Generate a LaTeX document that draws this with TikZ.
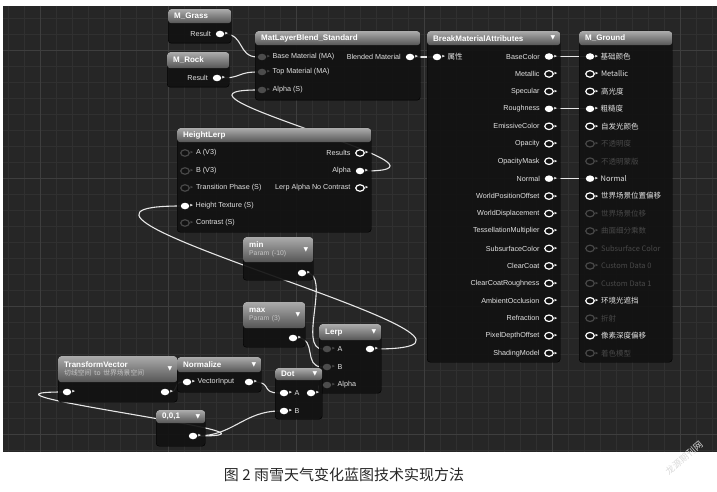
\documentclass[tikz,border=0pt]{standalone}
\usepackage{fontspec}
\setmainfont{Liberation Sans}
\newfontfamily\cjk{Noto Sans CJK SC}
\newfontfamily\dejavu{DejaVu Sans}
\usetikzlibrary{shapes.geometric}
\definecolor{canvas}{HTML}{262626}
\definecolor{gridminor}{HTML}{303030}
\definecolor{gridmajor}{HTML}{3E3E3E}
\definecolor{nodebody}{HTML}{121212}
\definecolor{headtop}{HTML}{ABABAB}
\definecolor{headbot}{HTML}{555555}
\definecolor{pintext}{HTML}{E2E2E2}
\definecolor{subtext}{HTML}{C4C4C4}
\definecolor{dimtext}{HTML}{484848}
\definecolor{matgray}{HTML}{4C4C4C}
\definecolor{wirecol}{HTML}{E6E6E6}
\pgfdeclarelayer{back}
\pgfdeclarelayer{wires}
\pgfsetlayers{back,wires,main}
\begin{document}
\begin{tikzpicture}[x=1pt, y=-1pt,
    body/.style={anchor=north west, draw=black, fill=nodebody, fill opacity=0.92, rounded corners=3pt, inner sep=0pt},
    head/.style={anchor=north west, top color=headtop, bottom color=headbot, rounded corners=3pt, inner xsep=6pt, inner ysep=0pt, align=left, text=white, font=\fontsize{8}{9}\selectfont\bfseries},
    drop/.style={label={[anchor=east, xshift=-5pt, inner sep=0pt, text=white, font=\dejavu\fontsize{6}{6}\selectfont]0:▼}},
    pinbase/.style={ellipse, inner sep=0pt, minimum width=8.5pt, minimum height=6.5pt},
    pintip/.style={label={[inner sep=0pt, label distance=0.6pt, text=#1, font=\dejavu\fontsize{3.5}{3.5}\selectfont]0:▶}},
    pinon/.style={pinbase, fill=white, pintip=white},
    pinoff/.style={pinbase, draw=white, line width=1.2pt, fill=nodebody, pintip=white},
    pinmat/.style={pinbase, fill=matgray, pintip=matgray},
    pindim/.style={pinbase, draw=dimtext, line width=1.2pt, fill=nodebody, pintip=dimtext},
    lbl/.style={inner sep=1.5pt, text=pintext, font=\fontsize{7.2}{8}\selectfont},
    outl/.style={label={[lbl, label distance=3pt]180:#1}},
    inl/.style={label={[lbl, label distance=4.5pt]0:#1}},
    cjkl/.style 2 args={label={[lbl, label distance=4.5pt, text=#1, font=\cjk\fontsize{7.5}{8}\selectfont]0:#2}},
    wire/.style={draw=wirecol, line width=1.1pt, out=0, in=180}]
\useasboundingbox (0,0) rectangle (717,492);
\begin{pgfonlayer}{back}
  \fill[canvas] (3,6) rectangle (717,452);
  \foreach \gx in {8,24,...,712} \draw[gridminor, line width=0.5pt] (\gx,6) -- (\gx,452);
  \foreach \gy in {18,34,...,450} \draw[gridminor, line width=0.5pt] (3,\gy) -- (717,\gy);
  \foreach \gx in {40,168,...,680} \draw[gridmajor, line width=0.7pt] (\gx,6) -- (\gx,452);
  \foreach \gy in {50,178,306,434} \draw[gridmajor, line width=0.7pt] (3,\gy) -- (717,\gy);
\end{pgfonlayer}

\node[body, minimum width=63pt, minimum height=34pt] (grass) at (168,9) {};
\node[head, text width=51pt, minimum height=14pt] at (168,9) {M\_Grass};
\node[pinon, outl=Result] (grassout) at (220,34) {};

\node[body, minimum width=62pt, minimum height=35pt] (rock) at (167,52) {};
\node[head, text width=50pt, minimum height=16pt] at (167,52) {M\_Rock};
\node[pinon, outl=Result] (rockout) at (217,78) {};

\node[body, minimum width=165pt, minimum height=69pt] (blend) at (255,31) {};
\node[head, text width=153pt, minimum height=14pt] at (255,31) {MatLayerBlend\_Standard};
\node[pinmat, inl=Base Material (MA)] (blendbase) at (262,57) {};
\node[pinmat, inl=Top Material (MA)] (blendtop) at (262,72) {};
\node[pinmat, inl=Alpha (S)] (blendalpha) at (262,90) {};
\node[pinon, outl=Blended Material] (blendout) at (410,57) {};

\node[body, minimum width=133pt, minimum height=331pt] (bma) at (427,31) {};
\node[head, drop, text width=121pt, minimum height=14pt] at (427,31) {BreakMaterialAttributes};
\node[pinon, cjkl={pintext}{属性}] (bmain) at (437,57) {};
\foreach \lab/\st [count=\i] in {BaseColor/pinon, Metallic/pinoff, Specular/pinoff, Roughness/pinon,
    EmissiveColor/pinoff, Opacity/pinoff, OpacityMask/pinoff, Normal/pinon, WorldPositionOffset/pinoff,
    WorldDisplacement/pinoff, TessellationMultiplier/pinoff, SubsurfaceColor/pinoff, ClearCoat/pinoff,
    ClearCoatRoughness/pinoff, AmbientOcclusion/pinoff, Refraction/pinoff, PixelDepthOffset/pinoff, ShadingModel/pinoff}
  \node[\st, outl=\lab] (bma\i) at (549,{56.5+17.45*(\i-1)}) {};

\node[body, minimum width=93pt, minimum height=331pt] (gnd) at (579,31) {};
\node[head, text width=81pt, minimum height=14pt] at (579,31) {M\_Ground};
\foreach \lab/\st/\col [count=\i] in {基础颜色/pinon/pintext, Metallic/pinoff/pintext, 高光度/pinoff/pintext,
    粗糙度/pinon/pintext, 自发光颜色/pinoff/pintext, 不透明度/pindim/dimtext, 不透明蒙版/pindim/dimtext,
    Normal/pinon/pintext, 世界场景位置偏移/pinoff/pintext, 世界场景位移/pindim/dimtext, 曲面细分乘数/pindim/dimtext,
    Subsurface Color/pindim/dimtext, Custom Data 0/pindim/dimtext, Custom Data 1/pindim/dimtext,
    环境光遮挡/pinoff/pintext, 折射/pindim/dimtext, 像素深度偏移/pinoff/pintext, 着色模型/pindim/dimtext}
  \node[\st, cjkl={\col}{\lab}] (gnd\i) at (590,{56.5+17.45*(\i-1)}) {};

\node[body, minimum width=194pt, minimum height=104pt] (hlerp) at (177,128) {};
\node[head, text width=182pt, minimum height=14pt] at (177,128) {HeightLerp};
\node[pindim, inl=A (V3)] (hla) at (185,153) {};
\node[pindim, inl=B (V3)] (hlb) at (185,171) {};
\node[pindim, inl=Transition Phase (S)] (hlphase) at (185,188) {};
\node[pinon, inl=Height Texture (S)] (hltex) at (185,206) {};
\node[pindim, inl=Contrast (S)] (hlcon) at (185,223) {};
\node[pinoff, outl=Results] (hlres) at (360,153) {};
\node[pinon, outl=Alpha] (hlalpha) at (360,171) {};
\node[pinoff, outl=Lerp Alpha No Contrast] (hlnocon) at (360,188) {};

\node[body, minimum width=70pt, minimum height=43pt] (minparam) at (243,237) {};
\node[head, drop, text width=58pt, minimum height=25pt] at (243,237) {min\\[-1pt]{\normalfont\fontsize{6.8}{7}\selectfont\color{subtext}Param (-10)}};
\node[pinon] (minout) at (302,273) {};

\node[body, minimum width=62pt, minimum height=45pt] (maxparam) at (243,302) {};
\node[head, drop, text width=50pt, minimum height=26pt] at (243,302) {max\\[-1pt]{\normalfont\fontsize{6.8}{7}\selectfont\color{subtext}Param (3)}};
\node[pinon] (maxout) at (293,338) {};

\node[body, minimum width=62pt, minimum height=69pt] (lerp) at (319,324) {};
\node[head, drop, text width=50pt, minimum height=16pt] at (319,324) {Lerp};
\node[pinmat, inl=A] (lerpa) at (327,349) {};
\node[pinmat, inl=B] (lerpb) at (327,367) {};
\node[pinmat, inl=Alpha] (lerpal) at (327,385) {};
\node[pinon] (lerpout) at (370,349) {};

\node[body, minimum width=119pt, minimum height=46pt] (tvec) at (58,356) {};
\node[head, drop, text width=107pt, minimum height=26pt] at (58,356) {TransformVector\\[-1pt]{\normalfont\cjk\fontsize{6.8}{7}\selectfont\color{subtext}切线空间 to 世界场景空间}};
\node[pinon] (tvin) at (67,392) {};
\node[pinon] (tvout) at (165,392) {};

\node[body, minimum width=84pt, minimum height=35pt] (norm) at (177,357) {};
\node[head, drop, text width=72pt, minimum height=15pt] at (177,357) {Normalize};
\node[pinon, inl=VectorInput] (normin) at (187,382) {};
\node[pinon] (normout) at (249,382) {};

\node[body, minimum width=47pt, minimum height=51pt] (dot) at (275,368) {};
\node[head, drop, text width=35pt, minimum height=12pt] at (275,368) {Dot};
\node[pinon, inl=A] (dota) at (284,393) {};
\node[pinon, inl=B] (dotb) at (284,411) {};
\node[pinon] (dotout) at (311,393) {};

\node[body, minimum width=49pt, minimum height=36pt] (vconst) at (156,410) {};
\node[head, drop, text width=37pt, minimum height=13pt] at (156,410) {0,0,1};
\node[pinon] (vout) at (193,436) {};

\begin{pgfonlayer}{wires}
  \path (grassout) edge[wire, distance=20pt] (blendbase);
  \path (rockout) edge[wire, distance=20pt] (blendtop);
  \path (blendout) edge[wire, distance=10pt] (bmain);
  \path (bma1) edge[wire] (gnd1);
  \path (bma4) edge[wire] (gnd4);
  \path (bma8) edge[wire] (gnd8);
  \path (hlalpha) edge[wire, distance=120pt] (blendalpha);
  \path (lerpout) edge[wire, distance=200pt] (hltex);
  \path (minout) edge[wire, distance=25pt] (lerpa);
  \path (maxout) edge[wire, distance=20pt] (lerpb);
  \path (dotout) edge[wire, distance=10pt] (lerpal);
  \path (tvout) edge[wire, distance=10pt] (normin);
  \path (normout) edge[wire, distance=20pt] (dota);
  \path (vout) edge[wire, distance=35pt] (dotb);
  \path (vout) edge[wire, distance=120pt] (tvin);
\end{pgfonlayer}

\node[font=\cjk\fontsize{15}{15}\selectfont, text=black!85] (caption) at (344,475) {图 2 雨雪天气变化蓝图技术实现方法};
\node[rotate=40, text=gray!30, font=\cjk\fontsize{9}{9}\selectfont] (mark) at (684,458) {龙源期刊网};
\end{tikzpicture}
\end{document}
